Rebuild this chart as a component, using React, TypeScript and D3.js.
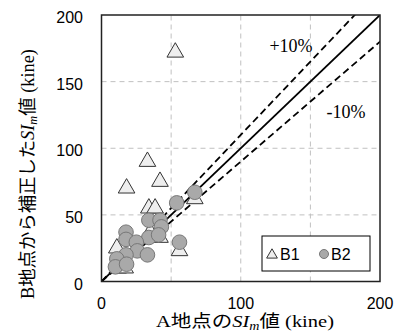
import React from "react";
import * as d3 from "d3";

const xTicks = [0, 100, 200];
const yTicks = [0, 50, 100, 150, 200];
const grid = [50, 100, 150];
const b1X = [53, 33, 18, 42, 34, 38.5, 42, 35, 11, 12, 17, 67, 56];
const b1Y = [172, 90, 70, 75, 55, 55, 33, 37, 25, 10, 10, 62, 23];
const b2X = [67, 54, 34, 42, 43, 34, 41, 17.6, 17.6, 25, 25.7, 33, 17.6, 11, 10, 18, 56];
const b2Y = [67, 59, 46, 46, 41, 33, 35, 37, 31.6, 29.5, 23, 20, 20, 17, 11, 13, 29.5];
const refLines = [
  { k: 1.0, dash: "none" },
  { k: 1.1, dash: "7,4" },
  { k: 0.9, dash: "7,4" },
];

export default function App() {
  const x = d3.scaleLinear().domain([0, 200]).range([101.5, 380]);
  const y = d3.scaleLinear().domain([0, 200]).range([281.5, 15]);
  const tri = d3.symbol(d3.symbolTriangle, 120)()!;
  const triSmall = d3.symbol(d3.symbolTriangle, 50)()!;
  const line = d3
    .line<[number, number]>()
    .x((d) => x(d[0]))
    .y((d) => y(d[1]));
  const sans = "'Liberation Sans', Arial, sans-serif";
  const serif = "'Liberation Serif', 'Times New Roman', 'Noto Sans CJK JP', serif";
  return (
    <svg
      width={398}
      height={333}
      style={{ position: "absolute", left: 0, top: 0, background: "#fff" }}
    >
      <defs>
        <clipPath id="plot">
          <rect x={x(0)} y={y(200)} width={x(200) - x(0)} height={y(0) - y(200)} />
        </clipPath>
      </defs>
      {grid.map((g) => (
        <g key={g}>
          <line x1={x(g)} x2={x(g)} y1={y(0)} y2={y(200)} stroke="#c0c0c0" strokeDasharray="5,4" strokeWidth={1} />
          <line x1={x(0)} x2={x(200)} y1={y(g)} y2={y(g)} stroke="#c0c0c0" strokeDasharray="5,4" strokeWidth={1} />
        </g>
      ))}
      <g clipPath="url(#plot)">
        {refLines.map((r) => (
          <path
            key={r.k}
            d={line([[0, 0], [220, 220 * r.k]])!}
            fill="none"
            stroke="#000"
            strokeWidth={1.8}
            strokeDasharray={r.dash}
          />
        ))}
      </g>
      {b1X.map((v, i) => (
        <path
          key={"t" + i}
          d={tri}
          transform={`translate(${x(v)},${y(b1Y[i])})`}
          fill="#eeeeee"
          stroke="#333"
          strokeWidth={1}
        />
      ))}
      {b2X.map((v, i) => (
        <circle key={"c" + i} cx={x(v)} cy={y(b2Y[i])} r={7.3} fill="#a9a9a9" stroke="#777" strokeWidth={1} />
      ))}
      <text x={291} y={52} fontFamily={serif} fontSize={18} textAnchor="middle">+10%</text>
      <text x={346} y={118} fontFamily={serif} fontSize={18} textAnchor="middle">-10%</text>
      {/* legend */}
      <rect x={262} y={236} width={108} height={35} fill="#fff" stroke="#000" strokeWidth={1} />
      <path d={triSmall} transform={`translate(${272},${255})`} fill="#eeeeee" stroke="#333" strokeWidth={1} />
      <text x={280} y={260} fontFamily={sans} fontSize={16}>B1</text>
      <circle cx={324} cy={254} r={4.5} fill="#a9a9a9" stroke="#777" strokeWidth={1} />
      <text x={331} y={260} fontFamily={sans} fontSize={16}>B2</text>
      <rect x={x(0)} y={y(200)} width={x(200) - x(0)} height={y(0) - y(200)} fill="none" stroke="#222" strokeWidth={1.5} />
      {yTicks.map((t) => (
        <text key={"yt" + t} x={83} y={y(t) + 8} fontFamily={sans} fontSize={16} textAnchor="end">{t}</text>
      ))}
      {xTicks.map((t) => (
        <text key={"xt" + t} x={x(t)} y={309} fontFamily={sans} fontSize={16} textAnchor="middle">{t}</text>
      ))}
      <text x={245} y={327} fontFamily={serif} fontSize={17.5} textAnchor="middle" textLength={178} lengthAdjust="spacingAndGlyphs">
        A地点の<tspan fontStyle="italic">SI</tspan>
        <tspan fontStyle="italic" fontSize={12} dy={3}>m</tspan>
        <tspan dy={-3}>値 (kine)</tspan>
      </text>
      <text
        transform={`translate(34,${174}) rotate(-90)`}
        fontFamily={serif}
        fontSize={18}
        textAnchor="middle"
        textLength={250}
        lengthAdjust="spacingAndGlyphs"
      >
        B地点から補正した<tspan fontStyle="italic">SI</tspan>
        <tspan fontStyle="italic" fontSize={12} dy={3}>m</tspan>
        <tspan dy={-3}>値 (kine)</tspan>
      </text>
    </svg>
  );
}
